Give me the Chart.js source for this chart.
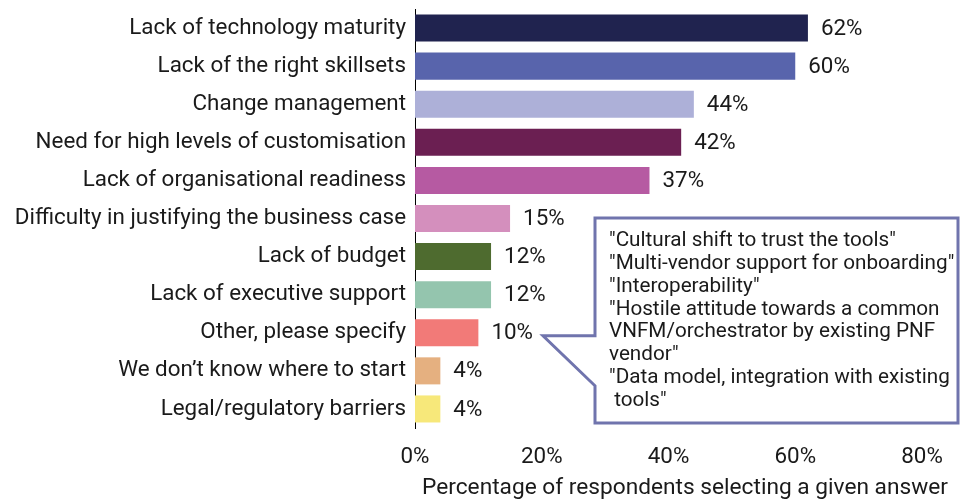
<!DOCTYPE html>
<html>
<head>
<meta charset="utf-8">
<script src="https://cdn.jsdelivr.net/npm/chart.js@4.4.1/dist/chart.umd.min.js"></script>
<style>
  html, body { margin: 0; padding: 0; background: #fff; }
  #wrap { width: 961px; height: 501px; position: relative; }
</style>
</head>
<body>
<div id="wrap"><canvas id="myChart"></canvas></div>
<script>
// data -------------------------------------------------------------
const barriers = [
  'Lack of technology maturity',
  'Lack of the right skillsets',
  'Change management',
  'Need for high levels of customisation',
  'Lack of organisational readiness',
  'Difficulty in justifying the business case',
  'Lack of budget',
  'Lack of executive support',
  'Other, please specify',
  'We don\u2019t know where to start',
  'Legal/regulatory barriers'
];
const shares = [62, 60, 44, 42, 37, 15, 12, 12, 10, 4, 4];
const barColors = ['#20234f', '#5864ac', '#adb0d8', '#6b1f52', '#b65aa2', '#d48fbd',
                   '#4e6b2f', '#94c5ae', '#f27a78', '#e5b080', '#f7e87a'];
const xTicks = [0, 20, 40, 60, 80];
const xTitle = 'Percentage of respondents selecting a given answer';
const otherAnswers = [
  '"Cultural shift to trust the tools"',
  '"Multi-vendor support for onboarding"',
  '"Interoperability"',
  '"Hostile attitude towards a common',
  'VNFM/orchestrator by existing PNF',
  'vendor"',
  '"Data model, integration with existing',
  ' tools"'
];

const FONT = 'Roboto, "DejaVu Sans", sans-serif';
const FS = 22.4;

// value labels at end of bars + axis title ----------------------------------
const valueLabels = {
  id: 'valueLabels',
  afterDatasetsDraw(chart) {
    const ctx = chart.ctx;
    const meta = chart.getDatasetMeta(0);
    ctx.save();
    ctx.font = FS + 'px ' + FONT;
    ctx.fillStyle = '#1a1a1a';
    ctx.textBaseline = 'middle';
    ctx.textAlign = 'left';
    meta.data.forEach((bar, i) => {
      ctx.fillText(shares[i] + '%', bar.x + 13, bar.y + 1);
    });
    // x axis title (sits a bit right of the plot centre in the original)
    ctx.font = '22.7px ' + FONT;
    ctx.textAlign = 'center';
    ctx.fillText(xTitle, chart.chartArea.right - 237, 488);
    ctx.restore();
  }
};

// callout with the "other" answers ---------------------------------------
const callout = {
  id: 'callout',
  afterDraw(chart) {
    const ctx = chart.ctx;
    const yIdx = barriers.indexOf('Other, please specify');
    const tipY = chart.scales.y.getPixelForValue(yIdx) + 3;
    const tipX = 543;
    const left = 595, top = 218, right = 958, bottom = 423;
    ctx.save();
    ctx.fillStyle = '#ffffff';
    ctx.strokeStyle = '#7074ad';
    ctx.lineWidth = 3;
    ctx.lineJoin = 'miter';
    ctx.beginPath();
    ctx.moveTo(left, top);
    ctx.lineTo(right, top);
    ctx.lineTo(right, bottom);
    ctx.lineTo(left, bottom);
    ctx.lineTo(left, tipY + 50);
    ctx.lineTo(tipX, tipY);
    ctx.lineTo(left, tipY);
    ctx.closePath();
    ctx.fill();
    ctx.stroke();

    ctx.font = '20.7px ' + FONT;
    ctx.fillStyle = '#1a1a1a';
    ctx.textBaseline = 'middle';
    ctx.textAlign = 'left';
    otherAnswers.forEach((line, i) => {
      ctx.fillText(line, 609, 241 + i * 22.8);
    });
    ctx.restore();
  }
};

// chart --------------------------------------------------------------
const ctx = document.getElementById('myChart').getContext('2d');
const myChart = new Chart(ctx, {
  type: 'bar',
  data: {
    labels: barriers,
    datasets: [{
      data: shares,
      backgroundColor: barColors,
      borderWidth: 0,
      categoryPercentage: 1,
      barPercentage: 0.71
    }]
  },
  options: {
    indexAxis: 'y',
    responsive: true,
    maintainAspectRatio: false,
    animation: false,
    layout: { padding: { top: 9, right: 39, left: 0, bottom: 0 } },
    plugins: {
      legend: { display: false },
      tooltip: { enabled: false }
    },
    scales: {
      x: {
        min: 0,
        max: 80,
        afterBuildTicks: (scale) => { scale.ticks = xTicks.map(v => ({ value: v })); },
        grid: { display: false, drawTicks: false },
        border: { display: false },
        ticks: {
          color: '#1a1a1a',
          font: { family: FONT, size: FS },
          padding: 16,
          callback: (v) => v + '%'
        },
        afterFit: (scale) => {
          scale.height = 73;
          scale.paddingLeft = 0;
          scale.paddingRight = 0;
        }
      },
      y: {
        grid: { display: false, drawTicks: false },
        border: { display: true, color: '#000', width: 1 },
        ticks: {
          color: '#1a1a1a',
          font: { family: FONT, size: FS },
          padding: 9,
          autoSkip: false
        },
        afterFit: (scale) => {
          scale.width = 415;
          scale.paddingTop = 0;
          scale.paddingBottom = 0;
        }
      }
    }
  },
  plugins: [valueLabels, callout]
});
</script>
</body>
</html>
